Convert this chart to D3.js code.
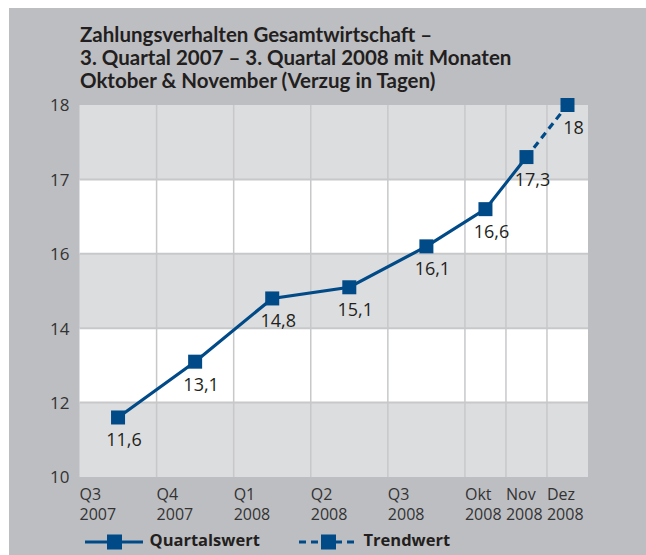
<!DOCTYPE html>
<html>
<head>
<meta charset="utf-8">
<script src="https://cdn.jsdelivr.net/npm/d3@7"></script>
<style>
  body { margin: 0; background: #fff; }
  svg { display: block; }
</style>
</head>
<body>
<div id="chart"></div>
<script>
// data
var kategorien = [["Q3", "2007"], ["Q4", "2007"], ["Q1", "2008"], ["Q2", "2008"], ["Q3", "2008"],
                  ["Okt", "2008"], ["Nov", "2008"], ["Dez", "2008"]];
var quartalswert = [11.6, 13.1, 14.8, 15.1, 16.1, 16.6, 17.3];   // from Q3 2007
var trendwert = [17.3, 18];                                      // from Nov 2008
var trendStart = 6;
var yTicks = [10, 12, 14, 16, 17, 18];
var titel = ["Zahlungsverhalten Gesamtwirtschaft –",
             "3. Quartal 2007 – 3. Quartal 2008 mit Monaten",
             "Oktober & November (Verzug in Tagen)"];

var W = 646, H = 555;
var margin = {top: 105, left: 79.5},
    width = 588 - margin.left,
    height = 477 - margin.top;
var blue = "#004a87", ink = "#231f20", font = "'Open Sans', sans-serif";

var svg = d3.select("#chart").append("svg")
  .attr("width", W).attr("height", H);

// grey card behind everything
svg.append("rect").attr("x", 9).attr("y", 8).attr("width", W - 9).attr("height", H - 8)
  .attr("fill", "#bdbec2");

// title
svg.append("g").selectAll("text").data(titel).enter().append("text")
  .attr("x", 80).attr("y", function(d, i) { return 41.5 + i * 23.3; })
  .attr("font-family", "Lato, sans-serif").attr("font-weight", 700).attr("font-size", 20.5)
  .attr("fill", ink).text(function(d) { return d; });

var g = svg.append("g").attr("transform", "translate(" + margin.left + "," + margin.top + ")");

// x: quarters first, then the three months (drawn a bit wider than half a quarter)
var nQ = 5;
var x = d3.scaleLinear().domain([0, nQ, kategorien.length]).range([0, width * 0.758, width]);
function xc(i) { return x(i + 0.5); }

// y: ticks are evenly spaced although their values are not
var y = d3.scaleLinear().domain(yTicks)
  .range(yTicks.map(function(d, i) { return height - i * height / (yTicks.length - 1); }));

// alternating horizontal bands
g.selectAll(".band").data(yTicks.slice(1)).enter().append("rect")
  .attr("x", 0).attr("width", width)
  .attr("y", function(d) { return y(d); })
  .attr("height", function(d, i) { return y(yTicks[i]) - y(d); })
  .attr("fill", function(d, i) { return i % 2 ? "#ffffff" : "#dcdddf"; });

// vertical grid
g.selectAll(".vgrid").data(d3.range(1, kategorien.length)).enter().append("line")
  .attr("x1", function(d) { return x(d); }).attr("x2", function(d) { return x(d); })
  .attr("y1", 0).attr("y2", height)
  .attr("stroke", "#c7c8ca").attr("stroke-width", 1.5);

// horizontal grid
g.selectAll(".hgrid").data(yTicks.slice(1, -1)).enter().append("line")
  .attr("x1", 0).attr("x2", width)
  .attr("y1", function(d) { return y(d); }).attr("y2", function(d) { return y(d); })
  .attr("stroke", "#c7c8ca").attr("stroke-width", 2);

// y axis labels
var yAxis = g.append("g").attr("transform", "translate(-10,0)")
  .call(d3.axisLeft(y).tickValues(yTicks).tickSize(0).tickPadding(0));
yAxis.select(".domain").remove();
yAxis.selectAll("text").attr("font-family", font).attr("font-size", 17).attr("fill", "#333")
  .attr("dy", "0.35em");

// x axis labels, two lines, left aligned at band start
var xl = g.append("g").attr("transform", "translate(0," + height + ")")
  .selectAll("text").data(kategorien).enter().append("text")
  .attr("x", function(d, i) { return x(i); })
  .attr("font-family", font).attr("font-size", 16).attr("fill", "#333");
xl.append("tspan").attr("x", function(d, i) { return x(i); }).attr("y", 22.5)
  .text(function(d) { return d[0]; });
xl.append("tspan").attr("x", function(d, i) { return x(i); }).attr("y", 42.5)
  .text(function(d) { return d[1]; });

// lines
var line = d3.line().x(function(d) { return xc(d.i); }).y(function(d) { return y(d.v); });
var qPts = quartalswert.map(function(v, i) { return {i: i, v: v}; });
var tPts = trendwert.map(function(v, i) { return {i: trendStart + i, v: v}; });

g.append("path").datum(tPts).attr("d", line).attr("fill", "none")
  .attr("stroke", blue).attr("stroke-width", 3.2).attr("stroke-dasharray", "7,5");
g.append("path").datum(qPts).attr("d", line).attr("fill", "none")
  .attr("stroke", blue).attr("stroke-width", 3.2);

// markers
var alle = qPts.concat(tPts.slice(1));
g.selectAll(".mark").data(alle).enter().append("rect")
  .attr("x", function(d) { return xc(d.i) - 7; })
  .attr("y", function(d) { return y(d.v) - 7; })
  .attr("width", 14).attr("height", 14).attr("fill", blue);

// value labels
var fmt = d3.formatLocale({decimal: ",", thousands: ".", grouping: [3], currency: ["", " €"]}).format("~g");
g.selectAll(".val").data(alle).enter().append("text")
  .attr("x", function(d) { return xc(d.i) + 6; })
  .attr("y", function(d) { return y(d.v) + 29; })
  .attr("text-anchor", "middle")
  .attr("font-family", font).attr("font-size", 18).attr("fill", ink)
  .text(function(d) { return fmt(d.v); });

// legend
var legend = [{name: "Quartalswert", x: 85, dash: null},
              {name: "Trendwert", x: 299, dash: "7,5"}];
var lg = svg.append("g").selectAll("g").data(legend).enter().append("g")
  .attr("transform", function(d) { return "translate(" + d.x + ",542)"; });
lg.append("line").attr("x1", 0).attr("x2", 58).attr("stroke", blue).attr("stroke-width", 3)
  .attr("stroke-dasharray", function(d) { return d.dash; });
lg.append("rect").attr("x", 22).attr("y", -7.5).attr("width", 15).attr("height", 15).attr("fill", blue);
lg.append("text").attr("x", 64.5).attr("y", 4)
  .attr("font-family", font).attr("font-weight", 700).attr("font-size", 16.5).attr("fill", ink)
  .text(function(d) { return d.name; });
</script>
</body>
</html>
